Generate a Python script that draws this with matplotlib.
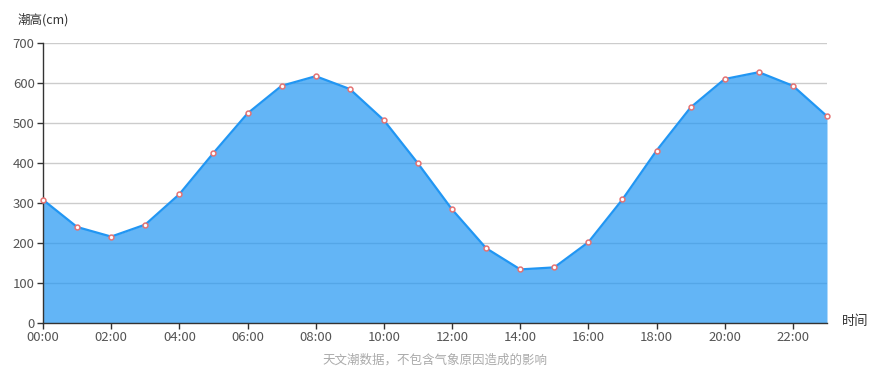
import matplotlib
matplotlib.use("Agg")
import matplotlib.pyplot as plt

plt.rcParams['font.family'] = ['Noto Sans CJK SC', 'DejaVu Sans']

hours = list(range(24))
tide_cm = [308, 240, 216, 246, 322, 425, 524, 593, 617, 585, 507, 399,
           284, 187, 134, 139, 202, 309, 431, 539, 610, 627, 593, 517]
tick_hours = list(range(0, 24, 2))
tick_labels = [f"{h:02d}:00" for h in tick_hours]
y_ticks = [0, 100, 200, 300, 400, 500, 600, 700]

fig = plt.figure(figsize=(8.86, 3.70), dpi=100)
ax = fig.add_axes([43/886, 47/370, 784/886, 280/370])

ax.set_axisbelow(True)
ax.grid(axis='y', color='#cccccc', linewidth=1)
ax.fill_between(hours, tide_cm, 0, color='#2196f3', alpha=0.7, linewidth=0, zorder=2)
ax.plot(hours, tide_cm, color='#2196f3', linewidth=1.6, zorder=3)
ax.plot(hours, tide_cm, linestyle='none', marker='o', markersize=3.5,
        markerfacecolor='white', markeredgecolor='#e57373', markeredgewidth=1.1, zorder=4,
        clip_on=False)

ax.set_xlim(0, 23)
ax.set_ylim(0, 700)
ax.set_xticks(tick_hours)
ax.set_xticklabels(tick_labels)
ax.set_yticks(y_ticks)
for s in ['top', 'right']:
    ax.spines[s].set_visible(False)
for s in ['left', 'bottom']:
    ax.spines[s].set_color('#333333')
    ax.spines[s].set_linewidth(1)
ax.tick_params(axis='both', colors='#333333', labelcolor='#555555', labelsize=9.5, length=4, width=1)
ax.tick_params(axis='x', pad=2)
ax.tick_params(axis='y', pad=2)

fig.text(18/886, 1 - 20/370, '潮高(cm)', fontsize=9, color='#333333', va='center', ha='left')
fig.text(842/886, 1 - 322/370, '时间', fontsize=9.5, color='#333333', va='center', ha='left')
fig.text(435/886, 1 - 360/370, '天文潮数据，不包含气象原因造成的影响', fontsize=9, color='#aaaaaa',
         va='center', ha='center')

fig.savefig('out.png', dpi=100)
